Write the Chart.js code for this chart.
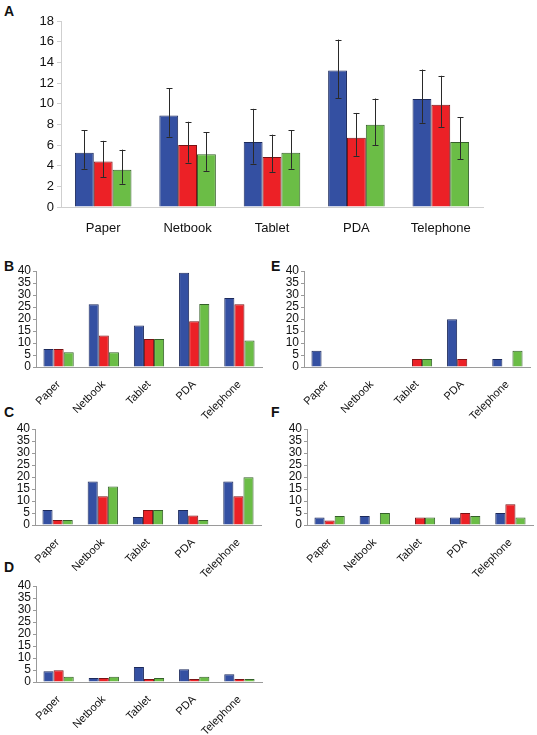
<!DOCTYPE html>
<html>
<head>
<meta charset="utf-8">
<script src="https://cdn.jsdelivr.net/npm/chart.js@4/dist/chart.umd.min.js"></script>
<style>
  body { margin: 0; background: #fff; width: 537px; height: 735px; position: relative; overflow: hidden; }
  canvas { position: absolute; }
  .lbl { position: absolute; font: bold 14px "Liberation Sans", Arial, sans-serif; color: #111; }
</style>
</head>
<body>
<div class="lbl" style="left:4px;top:3px">A</div>
<div class="lbl" style="left:4px;top:258px">B</div>
<div class="lbl" style="left:271px;top:258px">E</div>
<div class="lbl" style="left:4px;top:404px">C</div>
<div class="lbl" style="left:271px;top:404px">F</div>
<div class="lbl" style="left:4px;top:559px">D</div>

<canvas id="chartA" width="537" height="240" style="left:0;top:0"></canvas>
<canvas id="chartB" width="268" height="170" style="left:0;top:259px"></canvas>
<canvas id="chartE" width="268" height="170" style="left:268px;top:259px"></canvas>
<canvas id="chartC" width="268" height="170" style="left:0;top:417px"></canvas>
<canvas id="chartF" width="268" height="170" style="left:268px;top:417px"></canvas>
<canvas id="chartD" width="268" height="170" style="left:0;top:574px"></canvas>

<script>
const categories = ['Paper', 'Netbook', 'Tablet', 'PDA', 'Telephone'];

// panel A: means with error bar ends
const aBlue = [5.25, 8.85, 6.3, 13.2, 10.45];
const aBlueLo = [3.7, 6.8, 4.2, 10.55, 8.15];
const aBlueHi = [7.45, 11.5, 9.5, 16.2, 13.3];
const aRed = [4.4, 6.0, 4.85, 6.7, 9.9];
const aRedLo = [2.9, 4.3, 3.4, 4.95, 7.75];
const aRedHi = [6.4, 8.25, 7.0, 9.1, 12.7];
const aGreen = [3.6, 5.1, 5.25, 7.95, 6.3];
const aGreenLo = [2.25, 3.5, 3.7, 6.0, 4.6];
const aGreenHi = [5.55, 7.25, 7.45, 10.5, 8.7];
const aTicks = [0, 2, 4, 6, 8, 10, 12, 14, 16, 18];

// panels B-F
const bBlue = [7.5, 26.1, 17.3, 39.3, 28.8];
const bRed = [7.5, 13.1, 11.7, 19.1, 26.1];
const bGreen = [6.1, 6.1, 11.7, 26.3, 11.0];

const cBlue = [6.3, 18.1, 3.3, 6.3, 18.1];
const cRed = [2.1, 12.0, 6.3, 4.0, 12.0];
const cGreen = [2.1, 16.0, 6.3, 2.1, 19.9];

const dBlue = [4.5, 1.7, 6.3, 5.3, 3.2];
const dRed = [4.9, 1.7, 1.3, 1.3, 1.3];
const dGreen = [2.2, 2.2, 1.7, 2.2, 1.3];

const eBlue = [6.8, 0, 0, 19.9, 3.3];
const eRed = [0, 0, 3.3, 3.3, 0];
const eGreen = [0, 0, 3.3, 0, 6.8];

const fBlue = [3.1, 3.8, 0, 3.1, 5.0];
const fRed = [1.9, 0, 3.1, 5.0, 8.6];
const fGreen = [3.8, 5.0, 3.1, 3.8, 3.1];

const smallTicks = [0, 5, 10, 15, 20, 25, 30, 35, 40];

const colors = [
  { fill: '#3450a2', line: '#1c2a5c' },
  { fill: '#ec2126', line: '#7a1214' },
  { fill: '#6bbd46', line: '#35602a' }
];
const FONT = '"Liberation Sans", Arial, sans-serif';

function makeSets(series) {
  return series.map((vals, i) => ({
    data: vals.map(v => (v === 0 ? null : v)),
    backgroundColor: colors[i].fill,
    borderColor: colors[i].line,
    borderWidth: 1,
    borderSkipped: 'bottom',
    categoryPercentage: 0.67,
    barPercentage: 1.0
  }));
}

// error bars for panel A, placed through the y scale
const errorBars = {
  id: 'errorBars',
  afterDatasetsDraw(chart) {
    const ends = [[aBlueLo, aBlueHi], [aRedLo, aRedHi], [aGreenLo, aGreenHi]];
    const y = chart.scales.y;
    const ctx = chart.ctx;
    ctx.save();
    ctx.strokeStyle = '#2a2a2a';
    ctx.lineWidth = 1;
    ends.forEach((pair, i) => {
      chart.getDatasetMeta(i).data.forEach((bar, j) => {
        const x = Math.round(bar.x) + 0.5;
        const y1 = y.getPixelForValue(pair[0][j]);
        const y2 = y.getPixelForValue(pair[1][j]);
        ctx.beginPath();
        ctx.moveTo(x, y1); ctx.lineTo(x, y2);
        ctx.moveTo(x - 3, Math.round(y1) + 0.5); ctx.lineTo(x + 3, Math.round(y1) + 0.5);
        ctx.moveTo(x - 3, Math.round(y2) + 0.5); ctx.lineTo(x + 3, Math.round(y2) + 0.5);
        ctx.stroke();
      });
    });
    ctx.restore();
  }
};

new Chart(document.getElementById('chartA'), {
  type: 'bar',
  data: { labels: categories, datasets: makeSets([aBlue, aRed, aGreen]) },
  plugins: [errorBars],
  options: {
    responsive: false,
    animation: false,
    layout: { padding: { top: 21, right: 54, left: 0, bottom: 0 } },
    plugins: { legend: { display: false }, tooltip: { enabled: false } },
    scales: {
      x: {
        grid: { display: false },
        border: { color: '#cfcfcf', width: 1 },
        ticks: { color: '#111', font: { family: FONT, size: 13 }, padding: 6 },
        afterFit: s => { s.height = 33; }
      },
      y: {
        min: 0, max: 18,
        afterBuildTicks: s => { s.ticks = aTicks.map(v => ({ value: v })); },
        grid: { drawOnChartArea: false, color: '#cfcfcf', tickLength: 4 },
        border: { color: '#cfcfcf', width: 1 },
        ticks: { color: '#111', font: { family: FONT, size: 13 }, padding: 3, autoSkip: false },
        afterFit: s => { s.width = 61; }
      }
    }
  }
});

function smallChart(id, series, areaLeft) {
  new Chart(document.getElementById(id), {
    type: 'bar',
    data: { labels: categories, datasets: makeSets(series) },
    options: {
      responsive: false,
      animation: false,
      layout: { padding: { top: 12, right: 268 - areaLeft - 226, left: 0, bottom: 0 } },
      plugins: { legend: { display: false }, tooltip: { enabled: false } },
      scales: {
        x: {
          grid: { display: false },
          border: { color: '#9a9a9a', width: 1 },
          ticks: { color: '#111', font: { family: FONT, size: 11 }, padding: 3, minRotation: 45, maxRotation: 45, autoSkip: false },
          afterFit: s => { s.height = 62; }
        },
        y: {
          min: 0, max: 40,
          afterBuildTicks: s => { s.ticks = smallTicks.map(v => ({ value: v })); },
          grid: { drawOnChartArea: false, color: '#9a9a9a', tickLength: 3 },
          border: { color: '#9a9a9a', width: 1 },
          ticks: { color: '#111', font: { family: FONT, size: 12 }, padding: 2, autoSkip: false },
          afterFit: s => { s.width = areaLeft; }
        }
      }
    }
  });
}

smallChart('chartB', [bBlue, bRed, bGreen], 36);
smallChart('chartE', [eBlue, eRed, eGreen], 36);
smallChart('chartC', [cBlue, cRed, cGreen], 35);
smallChart('chartF', [fBlue, fRed, fGreen], 39);
smallChart('chartD', [dBlue, dRed, dGreen], 36);
</script>
</body>
</html>
